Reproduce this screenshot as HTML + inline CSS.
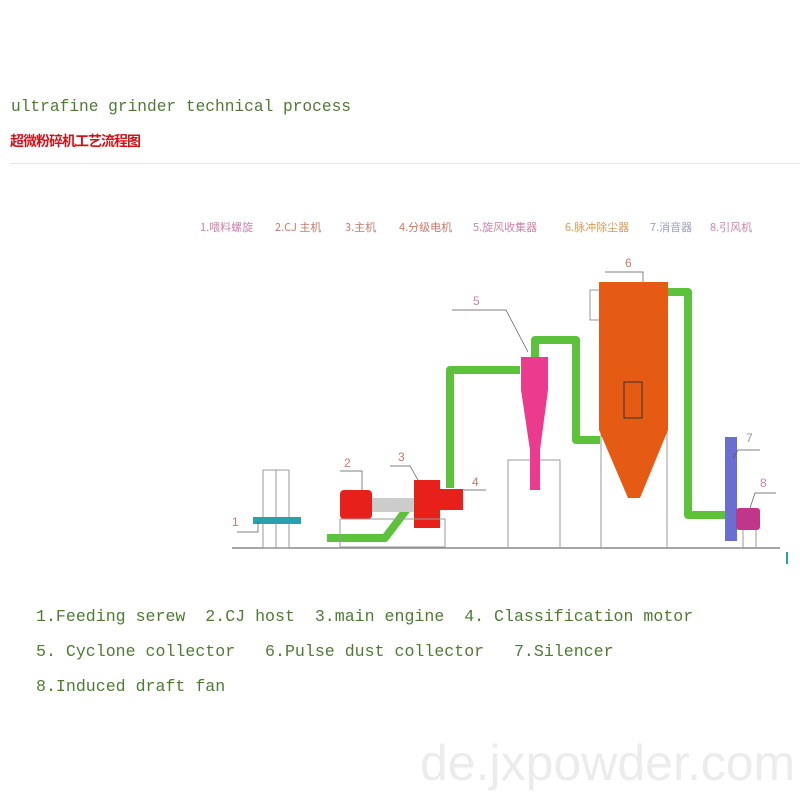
<!DOCTYPE html>
<html><head><meta charset="utf-8"><style>
body{margin:0;width:800px;height:800px;background:#fff;position:relative;overflow:hidden;font-family:"Liberation Mono",monospace}
.t{position:absolute;color:#4f7a34;font-size:16.6px;white-space:pre}
</style></head><body>
<div class="t" style="left:11px;top:98px;font-size:16.2px">ultrafine grinder technical process</div>
<div style="position:absolute;left:10px;top:131px;color:#d0141a;font:bold 14px 'Noto Sans CJK SC',sans-serif;letter-spacing:-1px">超微粉碎机工艺流程图</div>
<div style="position:absolute;left:10px;top:163px;width:790px;height:1px;background:#e6e6e6"></div>
<svg width="800" height="800" style="position:absolute;left:0;top:0" font-family="'Noto Sans CJK SC',sans-serif">
<g font-size="11">
<text x="200" y="231" fill="#c984a8">1.喂料螺旋</text>
<text x="275" y="231" fill="#c47a6a">2.CJ 主机</text>
<text x="345" y="231" fill="#c47a6a">3.主机</text>
<text x="399" y="231" fill="#c47a6a">4.分级电机</text>
<text x="473" y="231" fill="#c984a8">5.旋风收集器</text>
<text x="565" y="231" fill="#d99a55">6.脉冲除尘器</text>
<text x="650" y="231" fill="#9aa0b8">7.消音器</text>
<text x="710" y="231" fill="#c984a8">8.引风机</text>
</g>
<line x1="232" y1="548" x2="780" y2="548" stroke="#888" stroke-width="1.5"/>
<g stroke="#999" fill="none"><rect x="263" y="470" width="26" height="78"/><line x1="276" y1="470" x2="276" y2="548"/></g>
<rect x="253" y="517" width="48" height="7" fill="#2aa0b0"/>
<g fill="none" stroke="#5cc23c" stroke-width="8" stroke-linejoin="round">
<path d="M327 538 L385 538 L410 505"/>
<path d="M520 370 L450 370 L450 488"/>
<path d="M535 358 L535 340 L576 340 L576 440 L600 440"/>
<path d="M668 292 L688 292 L688 515 L730 515"/>
</g>
<rect x="340" y="490" width="32" height="29" rx="4" fill="#e8201c"/>
<rect x="372" y="498" width="42" height="14" fill="#ccc"/>
<rect x="414" y="480" width="26" height="48" fill="#e8201c"/>
<rect x="440" y="489" width="23" height="21" fill="#e8201c"/>
<g stroke="#999" fill="none"><rect x="340" y="519" width="105" height="28"/></g>
<g stroke="#999" fill="none"><path d="M508 548 L508 460 L560 460 L560 548"/></g>
<path d="M521 357 L548 357 L548 390 L540 450 L540 490 L530 490 L530 450 L521 390Z" fill="#ec3a8e"/>
<g stroke="#999" fill="none"><line x1="601" y1="430" x2="601" y2="548"/><line x1="667" y1="430" x2="667" y2="548"/><rect x="590" y="290" width="10" height="30"/></g>
<path d="M599 282 L668 282 L668 430 L640 498 L628 498 L599 430Z" fill="#e55b14"/>
<rect x="624" y="382" width="18" height="36" fill="none" stroke="#333"/>
<rect x="725" y="437" width="12" height="104" fill="#6a6ed0"/>
<rect x="736" y="508" width="24" height="22" rx="3" fill="#c0378a"/>
<g stroke="#999" fill="none"><line x1="743" y1="530" x2="743" y2="548"/><line x1="756" y1="530" x2="756" y2="548"/></g>
<rect x="786" y="552" width="2" height="12" fill="#2aa0b0"/>
<g font-size="12" fill="#c47a6a" font-family="'Liberation Sans',sans-serif">
<text x="232" y="526">1</text><text x="344" y="467">2</text><text x="398" y="461">3</text><text x="472" y="486">4</text>
<text x="473" y="305" fill="#c984a8">5</text><text x="625" y="267" fill="#c47a6a">6</text><text x="746" y="442" fill="#999">7</text><text x="760" y="487" fill="#c984a8">8</text>
</g>
<g stroke="#555" stroke-width="0.7" fill="none">
<path d="M237 532 L258 532 L258 522"/><path d="M340 471 L362 471 L362 490"/><path d="M390 466 L410 466 L418 480"/>
<path d="M462 490 L486 490"/><path d="M452 310 L506 310 L528 352"/><path d="M605 272 L643 272 L643 282"/>
<path d="M760 450 L738 450 L733 458"/><path d="M776 493 L755 493 L750 508"/>
</g>
</svg>
<div class="t" style="left:36px;top:607px">1.Feeding serew  2.CJ host  3.main engine  4. Classification motor</div>
<div class="t" style="left:36px;top:642px">5. Cyclone collector   6.Pulse dust collector   7.Silencer</div>
<div class="t" style="left:36px;top:677px">8.Induced draft fan</div>
<div style="position:absolute;left:420px;top:734px;color:#ececec;font:50px 'Liberation Sans',sans-serif">de.jxpowder.com</div>
</body></html>
